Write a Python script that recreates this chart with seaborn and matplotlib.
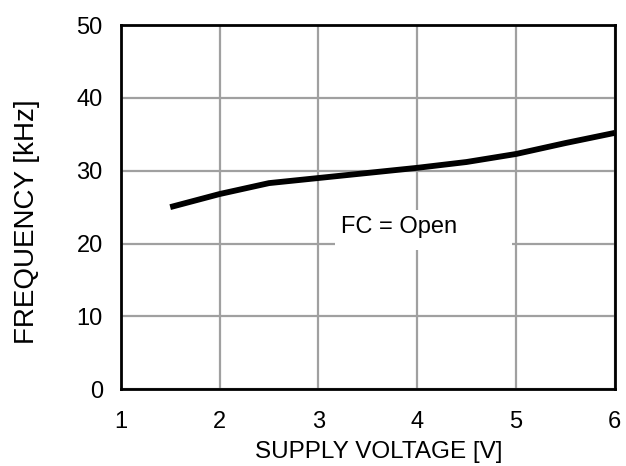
import matplotlib
matplotlib.use("Agg")
import matplotlib.pyplot as plt
from matplotlib.patches import Rectangle
import seaborn as sns
import pandas as pd

# Oscillator frequency vs supply voltage, FC pin left open
supply_voltage = [1.5, 2.0, 2.5, 3.0, 3.5, 4.0, 4.5, 5.0, 5.5, 6.0]
frequency_khz = [25.0, 26.8, 28.3, 29.0, 29.7, 30.4, 31.2, 32.3, 33.8, 35.2]
x_ticks = [1, 2, 3, 4, 5, 6]
y_ticks = [0, 10, 20, 30, 40, 50]

df = pd.DataFrame({"V": supply_voltage, "F": frequency_khz})

sns.set_style("white")
plt.rcParams["font.family"] = ["Liberation Sans", "DejaVu Sans"]

fig = plt.figure(figsize=(6.26, 4.66), dpi=100)
ax = fig.add_axes([0.193, 0.165, 0.789, 0.781])

sns.lineplot(data=df, x="V", y="F", ax=ax, color="black", linewidth=4.2,
             solid_capstyle="butt", zorder=3)

ax.set_xlim(1, 6)
ax.set_ylim(0, 50)
ax.set_xticks(x_ticks)
ax.set_yticks(y_ticks)
ax.set_axisbelow(True)
ax.grid(True, color="#a0a0a0", linewidth=1.6)
for s in ax.spines.values():
    s.set_visible(True)
    s.set_color("black")
    s.set_linewidth(2.0)

ax.tick_params(axis="both", length=0, labelsize=17, colors="black")
ax.tick_params(axis="y", pad=13)
ax.tick_params(axis="x", pad=16)

ax.set_xlabel("SUPPLY VOLTAGE [V]", fontsize=17.5, color="black")
ax.set_ylabel("FREQUENCY [kHz]", fontsize=20, color="black")
ax.xaxis.set_label_coords(0.522, -0.142)
ax.yaxis.set_label_coords(-0.163, 0.46)

# white label panel interrupting the grid
ax.add_patch(Rectangle((3.166, 19.1), 1.79, 5.5, facecolor="white",
                       edgecolor="none", zorder=1.5))
ax.text(3.82, 22.3, "FC = Open", fontsize=17, ha="center", va="center",
        color="black", zorder=4)

fig.savefig("out.png", dpi=100)
